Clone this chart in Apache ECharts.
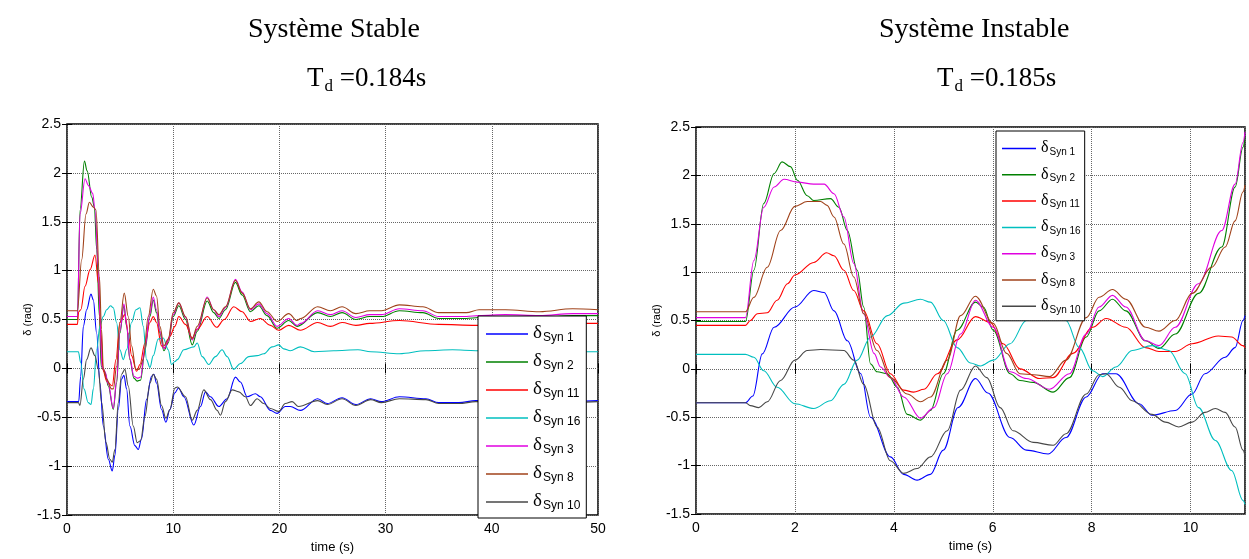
<!DOCTYPE html>
<html>
<head>
<meta charset="utf-8">
<title>Système Stable / Instable</title>
<script src="https://cdn.jsdelivr.net/npm/echarts/dist/echarts.min.js"></script>
<style>
  html, body { margin: 0; padding: 0; background: #fff; }
  #chart { width: 1249px; height: 559px; }
</style>
</head>
<body>
<div id="chart"></div>
<script>
// --- data: [time (s), delta (rad)] --------------------------------------------

const names = ["Syn 1", "Syn 2", "Syn 11", "Syn 16", "Syn 3", "Syn 8", "Syn 10"];
const colors = ["#0000ff", "#008000", "#ff0000", "#00bfbf", "#e000e0", "#a0421a", "#474747"];

// Stable case, Td = 0.184 s
const stSyn1 = [[0,-0.34],[1.1,-0.34],[1.29,-0.08],[1.54,0.43],[1.85,0.6],[2.26,0.76],[2.48,0.7],[2.79,0.36],[3.1,-0.15],[3.42,-0.59],[3.89,-0.93],[4.26,-1.05],[4.51,-0.89],[4.83,-0.42],[5.14,-0.11],[5.36,-0.07],[5.61,-0.21],[5.92,-0.59],[6.39,-0.79],[6.71,-0.83],[7.02,-0.72],[7.49,-0.32],[7.96,-0.08],[8.18,-0.06],[8.43,-0.15],[8.9,-0.42],[9.31,-0.55],[9.69,-0.42],[10.16,-0.25],[10.5,-0.2],[11.0,-0.29],[11.94,-0.58],[12.57,-0.39],[13.04,-0.24],[13.5,-0.29],[14.3,-0.39],[15.08,-0.31],[15.86,-0.09],[16.33,-0.14],[16.96,-0.29],[17.74,-0.26],[18.21,-0.29],[19.15,-0.43],[19.78,-0.46],[20.56,-0.39],[21.03,-0.39],[21.97,-0.43],[23.6,-0.31],[24.5,-0.36],[25.9,-0.3],[27.2,-0.37],[28.6,-0.31],[29.6,-0.34],[31.3,-0.29],[33.8,-0.31],[35,-0.35],[36.9,-0.35],[38.5,-0.33],[42,-0.34],[46,-0.34],[50,-0.33]];
const stSyn2 = [[0,0.5],[0.98,0.5],[1.23,1.62],[1.64,2.12],[1.9,2.02],[2.33,1.75],[2.58,1.65],[2.8,1.21],[3.05,0.53],[3.22,0.02],[3.57,-0.04],[3.89,-0.18],[4.36,-0.42],[4.67,-0.15],[4.98,0.36],[5.36,0.64],[5.61,0.43],[5.92,0.09],[6.3,-0.1],[6.61,-0.13],[6.93,-0.12],[7.34,0.19],[7.81,0.53],[8.12,0.7],[8.43,0.57],[8.75,0.36],[9.12,0.18],[9.53,0.26],[10.0,0.53],[10.53,0.64],[11.16,0.5],[11.79,0.24],[12.26,0.38],[13.2,0.69],[13.82,0.57],[14.3,0.51],[14.92,0.6],[15.86,0.88],[16.49,0.75],[17.27,0.58],[18.06,0.64],[18.84,0.54],[19.78,0.41],[20.88,0.49],[21.66,0.43],[23.6,0.57],[24.8,0.53],[25.9,0.57],[27.2,0.5],[28.5,0.53],[29.6,0.53],[31.3,0.59],[33.5,0.57],[35,0.51],[37.6,0.51],[38.8,0.52],[41.3,0.53],[44.5,0.52],[47.6,0.54],[50,0.54]];
const stSyn11 = [[0,0.45],[0.98,0.45],[1.1,0.58],[1.3,0.6],[1.7,0.84],[2.17,1.01],[2.64,1.16],[2.96,0.87],[3.2,0.35],[3.4,-0.02],[3.73,-0.13],[4.26,-0.18],[4.61,0.09],[4.98,0.47],[5.45,0.55],[5.77,0.36],[6.08,0.13],[6.55,-0.03],[6.87,0.04],[7.34,0.26],[7.81,0.47],[8.12,0.53],[8.43,0.47],[8.9,0.23],[9.22,0.21],[9.69,0.33],[10.16,0.43],[10.53,0.53],[11.16,0.45],[11.79,0.31],[12.26,0.4],[13.2,0.53],[14.1,0.42],[14.8,0.5],[15.7,0.63],[16.49,0.58],[17.27,0.48],[18.2,0.51],[19.15,0.44],[19.94,0.39],[20.88,0.44],[21.97,0.39],[23.6,0.47],[24.8,0.43],[25.9,0.47],[27.2,0.44],[28.5,0.46],[31.3,0.49],[35,0.45],[38.5,0.44],[42,0.45],[46,0.46],[50,0.46]];
const stSyn16 = [[0,0.17],[1.07,0.17],[1.29,0.06],[1.6,-0.21],[2.0,-0.35],[2.26,-0.37],[2.48,-0.21],[2.79,0.19],[3.1,0.43],[3.42,0.53],[3.73,0.6],[4.11,0.64],[4.36,0.62],[4.67,0.47],[4.98,0.19],[5.3,0.09],[5.61,0.19],[6.08,0.47],[6.49,0.6],[6.87,0.62],[7.18,0.43],[7.49,0.09],[7.81,0.01],[8.12,0.13],[8.59,0.3],[9.06,0.31],[9.53,0.19],[9.84,0.04],[10.16,0.07],[10.38,0.09],[11.0,0.19],[11.94,0.22],[12.26,0.26],[12.73,0.12],[13.35,0.04],[13.98,0.12],[14.6,0.19],[15.08,0.12],[15.7,-0.01],[16.33,0.05],[17.12,0.12],[17.9,0.13],[18.53,0.15],[19.31,0.22],[19.94,0.24],[20.4,0.2],[21.03,0.18],[21.97,0.22],[23.3,0.17],[25.1,0.18],[27.4,0.19],[28.6,0.17],[31.3,0.15],[33.8,0.18],[36.3,0.19],[38.5,0.18],[44,0.17],[50,0.17]];
const stSyn3 = [[0,0.53],[0.98,0.53],[1.23,1.58],[1.7,1.94],[2.02,1.87],[2.42,1.79],[2.64,1.62],[2.96,1.01],[3.11,0.53],[3.28,0.02],[3.57,-0.03],[3.89,-0.16],[4.36,-0.41],[4.67,-0.12],[4.98,0.38],[5.36,0.66],[5.61,0.45],[5.92,0.1],[6.3,-0.08],[6.61,-0.1],[6.93,-0.09],[7.34,0.21],[7.81,0.56],[8.12,0.73],[8.43,0.6],[8.75,0.38],[9.12,0.2],[9.53,0.28],[10.0,0.55],[10.53,0.67],[11.16,0.52],[11.79,0.29],[12.26,0.4],[13.2,0.73],[13.82,0.6],[14.3,0.53],[14.92,0.62],[15.86,0.91],[16.49,0.78],[17.27,0.6],[18.06,0.66],[18.84,0.56],[19.78,0.43],[20.88,0.51],[21.66,0.44],[22,0.46],[23.6,0.59],[24.8,0.55],[25.9,0.59],[27.2,0.52],[28.5,0.55],[29.6,0.55],[31.3,0.61],[33.5,0.59],[35,0.53],[37.6,0.53],[38.8,0.54],[41.3,0.55],[44.5,0.54],[47.6,0.56],[50,0.56]];
const stSyn8 = [[0,0.59],[0.98,0.59],[1.38,1.11],[1.79,1.58],[2.11,1.7],[2.48,1.65],[2.73,1.62],[3.05,0.94],[3.25,0.4],[3.42,0.0],[3.73,-0.11],[4.2,-0.21],[4.36,-0.21],[4.67,0.02],[4.98,0.47],[5.39,0.77],[5.77,0.53],[6.08,0.23],[6.49,-0.01],[6.8,-0.01],[7.18,0.09],[7.65,0.53],[8.12,0.81],[8.43,0.74],[8.75,0.43],[9.12,0.23],[9.53,0.3],[10.0,0.57],[10.53,0.67],[11.16,0.53],[11.79,0.3],[12.26,0.43],[13.2,0.72],[13.82,0.6],[14.3,0.55],[14.92,0.63],[15.86,0.9],[16.49,0.77],[17.27,0.61],[18.06,0.68],[18.84,0.58],[19.78,0.48],[20.88,0.56],[21.66,0.49],[22,0.51],[23.6,0.63],[24.8,0.59],[25.9,0.63],[27.2,0.56],[28.5,0.59],[29.6,0.59],[31.3,0.65],[33.5,0.63],[35,0.57],[37.6,0.57],[38.8,0.6],[41.3,0.6],[44.5,0.58],[47.6,0.61],[50,0.6]];
const stSyn10 = [[0,-0.35],[1.07,-0.35],[1.22,-0.38],[1.54,-0.11],[1.85,0.09],[2.26,0.21],[2.63,0.13],[2.95,-0.01],[3.26,-0.35],[3.67,-0.76],[4.04,-0.93],[4.26,-0.96],[4.51,-0.83],[4.83,-0.35],[5.14,-0.06],[5.45,-0.01],[5.77,-0.18],[6.24,-0.59],[6.61,-0.76],[6.93,-0.74],[7.34,-0.49],[7.81,-0.15],[8.12,-0.06],[8.43,-0.11],[8.9,-0.38],[9.31,-0.51],[9.69,-0.42],[10.16,-0.2],[10.38,-0.19],[11.16,-0.29],[11.79,-0.53],[12.26,-0.43],[12.88,-0.22],[13.51,-0.32],[14.14,-0.43],[14.45,-0.48],[14.92,-0.34],[15.55,-0.22],[16.18,-0.24],[16.8,-0.29],[17.27,-0.38],[17.9,-0.31],[18.53,-0.36],[19.15,-0.41],[19.94,-0.44],[20.56,-0.36],[21.2,-0.34],[21.8,-0.39],[23.6,-0.33],[24.5,-0.37],[25.9,-0.31],[27.2,-0.38],[28.6,-0.32],[29.6,-0.35],[31.3,-0.31],[33.8,-0.32],[35,-0.36],[36.9,-0.36],[38.5,-0.34],[42,-0.35],[46,-0.35],[50,-0.34]];

// Unstable case, Td = 0.185 s
const inSyn1 = [[0,-0.35],[1.0,-0.35],[1.15,-0.28],[1.34,0.155],[1.58,0.43],[2.0,0.64],[2.38,0.81],[2.59,0.79],[2.79,0.6],[3.06,0.29],[3.33,-0.05],[3.53,-0.5],[3.93,-0.91],[4.2,-1.09],[4.47,-1.15],[4.74,-1.09],[5.0,-0.84],[5.3,-0.4],[5.65,-0.1],[5.9,-0.25],[6.35,-0.71],[6.68,-0.84],[7.12,-0.88],[7.48,-0.71],[7.89,-0.29],[8.22,-0.05],[8.49,-0.05],[8.96,-0.36],[9.22,-0.48],[9.69,-0.43],[10.03,-0.26],[10.29,-0.05],[10.7,0.12],[10.9,0.22],[11.06,0.5],[11.1,0.55]];
const inSyn2 = [[0,0.49],[1.0,0.49],[1.17,1.02],[1.37,1.71],[1.58,2.02],[1.74,2.14],[1.91,2.09],[2.05,1.95],[2.25,1.79],[2.38,1.74],[2.72,1.76],[2.89,1.67],[3.06,1.43],[3.26,1.02],[3.39,0.64],[3.53,0.05],[3.66,-0.03],[3.87,-0.05],[4.07,-0.19],[4.27,-0.47],[4.54,-0.53],[4.74,-0.43],[5.0,-0.05],[5.28,0.4],[5.65,0.69],[5.81,0.64],[6.01,0.4],[6.35,-0.05],[6.55,-0.12],[6.82,-0.14],[7.22,-0.24],[7.55,-0.09],[7.89,0.33],[8.15,0.6],[8.42,0.72],[8.69,0.6],[9.09,0.29],[9.36,0.21],[9.69,0.36],[10.16,0.78],[10.63,1.26],[10.9,1.88],[11.06,2.29],[11.1,2.4]];
const inSyn11 = [[0,0.45],[1.0,0.45],[1.1,0.5],[1.24,0.57],[1.44,0.58],[1.64,0.71],[1.85,0.88],[2.0,0.97],[2.38,1.1],[2.64,1.2],[2.79,1.17],[2.99,1.02],[3.19,0.81],[3.39,0.6],[3.66,0.26],[3.93,-0.05],[4.2,-0.22],[4.4,-0.24],[4.61,-0.21],[4.88,-0.05],[5.28,0.3],[5.65,0.54],[5.95,0.48],[6.21,0.26],[6.55,0.0],[6.95,-0.1],[7.22,-0.09],[7.62,0.16],[8.02,0.43],[8.29,0.52],[8.69,0.43],[9.09,0.22],[9.36,0.18],[9.69,0.18],[10.03,0.26],[10.56,0.34],[10.83,0.33],[11.06,0.24],[11.1,0.22]];
const inSyn16 = [[0,0.15],[1.0,0.15],[1.17,0.12],[1.37,-0.02],[1.64,-0.19],[2.0,-0.36],[2.38,-0.41],[2.72,-0.33],[2.99,-0.16],[3.26,0.09],[3.53,0.33],[3.87,0.55],[4.2,0.68],[4.54,0.72],[4.74,0.69],[5.0,0.5],[5.28,0.22],[5.55,0.06],[5.75,0.03],[6.01,0.09],[6.35,0.26],[6.68,0.5],[7.1,0.68],[7.48,0.5],[7.75,0.22],[8.02,-0.02],[8.22,-0.08],[8.49,0.02],[8.82,0.19],[9.22,0.24],[9.56,0.19],[9.89,-0.05],[10.16,-0.4],[10.5,-0.74],[10.83,-1.05],[11.06,-1.36],[11.1,-1.4]];
const inSyn3 = [[0,0.53],[1.0,0.53],[1.17,1.12],[1.37,1.67],[1.58,1.88],[1.78,1.96],[2.05,1.93],[2.38,1.91],[2.59,1.91],[2.79,1.81],[2.99,1.57],[3.19,1.09],[3.39,0.57],[3.6,0.16],[3.73,0.02],[3.93,-0.09],[4.2,-0.29],[4.54,-0.51],[4.81,-0.4],[5.08,-0.05],[5.35,0.36],[5.65,0.71],[6.01,0.43],[6.35,-0.03],[6.68,-0.1],[7.15,-0.21],[7.55,-0.05],[7.89,0.36],[8.15,0.64],[8.42,0.76],[8.69,0.64],[9.09,0.29],[9.36,0.24],[9.69,0.43],[10.16,0.88],[10.63,1.43],[10.9,1.91],[11.06,2.34],[11.1,2.45]];
const inSyn8 = [[0,0.59],[1.0,0.59],[1.17,0.74],[1.44,1.05],[1.71,1.43],[2.0,1.68],[2.25,1.73],[2.52,1.73],[2.65,1.69],[2.79,1.57],[2.99,1.29],[3.19,0.95],[3.39,0.57],[3.66,0.19],[3.93,-0.09],[4.27,-0.26],[4.54,-0.34],[4.74,-0.29],[5.08,0.09],[5.35,0.55],[5.65,0.75],[6.01,0.47],[6.28,0.16],[6.55,-0.05],[6.82,-0.06],[7.15,-0.08],[7.48,0.09],[7.89,0.53],[8.15,0.74],[8.42,0.82],[8.69,0.72],[9.09,0.43],[9.36,0.39],[9.69,0.5],[10.03,0.78],[10.43,1.05],[10.7,1.26],[10.9,1.53],[11.06,1.83],[11.1,1.9]];
const inSyn10 = [[0,-0.35],[1.0,-0.35],[1.1,-0.38],[1.27,-0.4],[1.44,-0.34],[1.71,-0.12],[2.0,0.09],[2.25,0.19],[2.52,0.2],[2.99,0.19],[3.19,0.09],[3.39,-0.16],[3.66,-0.6],[3.93,-0.95],[4.2,-1.08],[4.47,-1.03],[4.74,-0.91],[5.08,-0.64],[5.35,-0.22],[5.65,0.03],[5.88,-0.09],[6.15,-0.4],[6.41,-0.64],[6.82,-0.76],[7.22,-0.79],[7.48,-0.67],[7.89,-0.26],[8.15,-0.06],[8.29,-0.05],[8.56,-0.19],[8.82,-0.33],[9.22,-0.47],[9.49,-0.55],[9.76,-0.6],[10.03,-0.55],[10.29,-0.45],[10.5,-0.41],[10.7,-0.45],[10.9,-0.6],[11.06,-0.84],[11.1,-0.9]];

const stableSets = [stSyn1, stSyn2, stSyn11, stSyn16, stSyn3, stSyn8, stSyn10];
const unstableSets = [inSyn1, inSyn2, inSyn11, inSyn16, inSyn3, inSyn8, inSyn10];

// --- styling -------------------------------------------------------------------

const SANS = "Liberation Sans, Arial, sans-serif";
const SERIF = "Liberation Serif, Times New Roman, serif";

const tickLabel = { color: "#000", fontFamily: SANS, fontSize: 14 };
const gridLine = { show: true, lineStyle: { color: "#666", type: [1, 1], width: 1 } };
const tickIn = { show: true, inside: true, length: 5, lineStyle: { color: "#000" } };

function xMain(grid, max, interval) {
  return {
    type: "value", gridIndex: grid, min: 0, max, interval, position: "bottom",
    name: "time (s)", nameLocation: "middle", nameGap: 24,
    nameTextStyle: { color: "#000", fontFamily: SANS, fontSize: 13 },
    axisLine: { show: false }, axisTick: tickIn,
    axisLabel: { ...tickLabel, margin: 7, showMaxLabel: max % interval === 0 },
    splitLine: gridLine,
  };
}
function xTop(grid, max, interval) {
  return {
    type: "value", gridIndex: grid, min: 0, max, interval, position: "top",
    axisLine: { show: false }, axisTick: tickIn, axisLabel: { show: false }, splitLine: { show: false },
  };
}
function yMain(grid, gap) {
  return {
    type: "value", gridIndex: grid, min: -1.5, max: 2.5, interval: 0.5, position: "left",
    name: "δ (rad)", nameLocation: "middle", nameGap: gap, nameRotate: 90,
    nameTextStyle: { color: "#000", fontFamily: SANS, fontSize: 11 },
    axisLine: { show: false }, axisTick: tickIn,
    axisLabel: { ...tickLabel, margin: 6 },
    splitLine: gridLine,
  };
}
function yRight(grid) {
  return {
    type: "value", gridIndex: grid, min: -1.5, max: 2.5, interval: 0.5, position: "right",
    axisLine: { show: false }, axisTick: tickIn, axisLabel: { show: false }, splitLine: { show: false },
  };
}

function mkSeries(sets, axisIdx) {
  return sets.map((data, i) => ({
    name: names[i], type: "line", data,
    xAxisIndex: axisIdx, yAxisIndex: axisIdx,
    symbol: "none", smooth: 0.35, smoothMonotone: "x",
    lineStyle: { width: 1.1, color: colors[i] }, itemStyle: { color: colors[i] },
    animation: false, z: 3,
  }));
}

// legend entries read "δ" with a subscript "Syn n"
function mkLegend(left, top, gap, lineW, dSize, sSize, pad) {
  return {
    data: names, orient: "vertical", left, top, itemGap: gap,
    icon: "rect", itemWidth: lineW, itemHeight: 1.5,
    backgroundColor: "#fff", borderColor: "#000", borderWidth: 1,
    padding: pad, selectedMode: false,
    formatter: (n) => `{d|δ}{s|${n}}`,
    textStyle: {
      rich: {
        d: { fontFamily: SERIF, fontSize: dSize, lineHeight: dSize + 1, verticalAlign: "top", color: "#000" },
        s: { fontFamily: SANS, fontSize: sSize, lineHeight: sSize + 2, padding: [10, 0, 0, 1], verticalAlign: "bottom", color: "#000" },
      },
    },
  };
}

function mkTitle(text, left, top) {
  return { text, left, top, textStyle: { fontFamily: SERIF, fontSize: 28, fontWeight: "normal", color: "#000" } };
}
function mkTd(val, left, top) {
  return {
    text: `{t|T}{s|d}{t| =${val}s}`, left, top,
    textStyle: {
      fontWeight: "normal",
      rich: {
        t: { fontFamily: SERIF, fontSize: 27, fontWeight: "normal", color: "#000", lineHeight: 30, verticalAlign: "top" },
        s: { fontFamily: SERIF, fontSize: 17, fontWeight: "normal", color: "#000", lineHeight: 20, padding: [12, 0, 0, 1], verticalAlign: "bottom" },
      },
    },
  };
}

const chart = echarts.init(document.getElementById("chart"), null, { renderer: "canvas" });
chart.setOption({
  animation: false,
  backgroundColor: "#fff",
  title: [
    mkTitle("Système Stable", 243, 11),
    mkTd("0.184", 302, 60),
    mkTitle("Système Instable", 874, 11),
    mkTd("0.185", 932, 60),
  ],
  grid: [
    { left: 67, top: 124, width: 531, height: 391, show: true, borderColor: "#000", borderWidth: 1.5, backgroundColor: "transparent" },
    { left: 696, top: 127, width: 549, height: 387, show: true, borderColor: "#000", borderWidth: 1.5, backgroundColor: "transparent" },
  ],
  xAxis: [xMain(0, 50, 10), xTop(0, 50, 10), xMain(1, 11.1, 2), xTop(1, 11.1, 2)],
  yAxis: [yMain(0, 32), yRight(0), yMain(1, 33), yRight(1)],
  legend: [
    mkLegend(478, 316, 6, 42, 19, 12, [6, 6, 6, 8]),
    mkLegend(996, 131, 6.3, 34, 16, 10, [6, 4, 6, 6]),
  ],
  series: [...mkSeries(stableSets, 0), ...mkSeries(unstableSets, 2)],
});
</script>
</body>
</html>
